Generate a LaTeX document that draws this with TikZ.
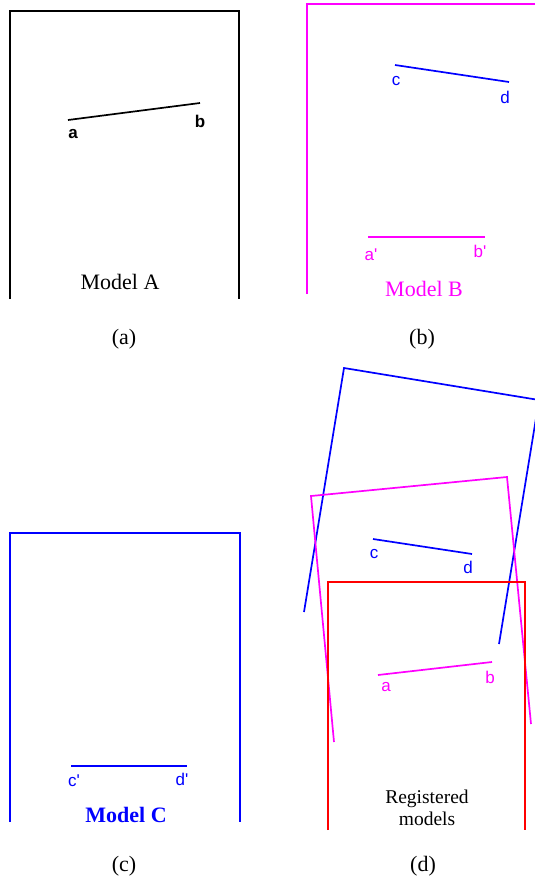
\documentclass[tikz,border=0pt]{standalone}
\usepackage{fontspec}
\setmainfont{Liberation Serif}
\setsansfont{Liberation Sans}
\definecolor{mag}{RGB}{255,0,255}
\newcommand{\prm}{\textquotesingle}

\begin{document}
\begin{tikzpicture}[x=1pt, y=-1pt, line width=1.7pt,
  pt/.style={font=\sffamily\fontsize{17}{19}\selectfont, inner sep=0pt},
  mdl/.style={font=\fontsize{22}{24}\selectfont, inner sep=0pt},
  sub/.style={font=\fontsize{22}{24}\selectfont, inner sep=0pt}]

\useasboundingbox (0,0) rectangle (535,879);
\clip (0,0) rectangle (535,879);

% Panel (a): model A
\coordinate (A1) at (10,299);
\coordinate (A2) at (10,11);
\coordinate (A3) at (239,11);
\coordinate (A4) at (239,299);
\draw[black] (A1) -- (A2) -- (A3) -- (A4);
\coordinate (a) at (68,120);
\coordinate (b) at (200,103);
\draw[black] (a) -- (b);
\node[pt, font=\sffamily\bfseries\fontsize{17}{19}\selectfont] (la) at (73,134) {a};
\node[pt, font=\sffamily\bfseries\fontsize{17}{19}\selectfont] (lb) at (200,121) {b};
\node[mdl] (mA) at (120,282) {Model A};
\node[sub] (sa) at (124,339) {(a)};

% Panel (b): model B
\coordinate (B1) at (307,294);
\coordinate (B2) at (307,4);
\coordinate (B3) at (540,4);
\draw[mag] (B1) -- (B2) -- (B3);
\coordinate (c) at (395,65);
\coordinate (d) at (509,82);
\draw[blue] (c) -- (d);
\node[pt, blue] (lc) at (396,81) {c};
\node[pt, blue] (ld) at (505,97) {d};
\coordinate (a') at (368,237);
\coordinate (b') at (485,237);
\draw[mag] (a') -- (b');
\node[pt, mag] (la') at (371,255) {a\prm};
\node[pt, mag] (lb') at (480,251) {b\prm};
\node[mdl, mag] (mB) at (424,289) {Model B};
\node[sub] (sb) at (422,339) {(b)};

% Panel (c): model C
\coordinate (C1) at (10,822);
\coordinate (C2) at (10,533);
\coordinate (C3) at (240,533);
\coordinate (C4) at (240,822);
\draw[blue] (C1) -- (C2) -- (C3) -- (C4);
\coordinate (c') at (71,766);
\coordinate (d') at (187,766);
\draw[blue] (c') -- (d');
\node[pt, blue] (lc') at (74,781) {c\prm};
\node[pt, blue] (ld') at (182,779) {d\prm};
\node[mdl, blue, font=\bfseries\fontsize{22}{24}\selectfont] (mC) at (126,815) {Model C};
\node[sub] (sc) at (124,866) {(c)};

% Panel (d): registered models
% C, rotated
\coordinate (D1) at (304,612);
\coordinate (D2) at (344,368);
\coordinate (D3) at (539,400);
\coordinate (D4) at (499,644);
\draw[blue] (D1) -- (D2) -- (D3) -- (D4);
% B, rotated
\coordinate (E1) at (334,742);
\coordinate (E2) at (311,496);
\coordinate (E3) at (507,477);
\coordinate (E4) at (531,724);
\draw[mag] (E1) -- (E2) -- (E3) -- (E4);
% A
\coordinate (F1) at (328,830);
\coordinate (F2) at (328,582);
\coordinate (F3) at (525,582);
\coordinate (F4) at (525,830);
\draw[red] (F1) -- (F2) -- (F3) -- (F4);
% matched segments
\coordinate (rc) at (373,539);
\coordinate (rd) at (472,554);
\draw[blue] (rc) -- (rd);
\node[pt, blue] (lrc) at (374,554) {c};
\node[pt, blue] (lrd) at (468,567) {d};
\coordinate (ra) at (378,675);
\coordinate (rb) at (492,662);
\draw[mag] (ra) -- (rb);
\node[pt, mag] (lra) at (386,687) {a};
\node[pt, mag] (lrb) at (490,677) {b};
\node[mdl, align=center, font=\fontsize{19.5}{22}\selectfont] (mD) at (427,808) {Registered\\models};
\node[sub] (sd) at (423,866) {(d)};

\end{tikzpicture}
\end{document}
